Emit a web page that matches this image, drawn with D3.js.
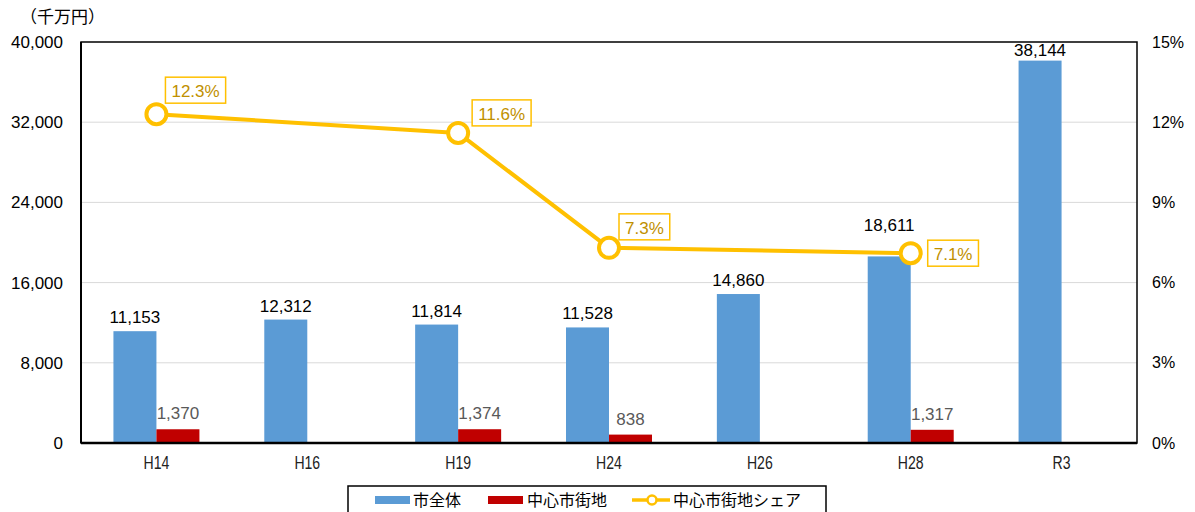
<!DOCTYPE html>
<html>
<head>
<meta charset="utf-8">
<script src="https://cdn.jsdelivr.net/npm/d3@7"></script>
<style>
  body { margin: 0; background: #fff; }
  text { font-family: "Liberation Sans", Arial, sans-serif; }
  .jp { font-family: "Noto Sans CJK JP", sans-serif; }
</style>
</head>
<body>
<svg id="chart" width="1195" height="512"></svg>
<script>
// data
const years = ["H14", "H16", "H19", "H24", "H26", "H28", "R3"];
const city_total = [11153, 12312, 11814, 11528, 14860, 18611, 38144];
const center_area = [1370, null, 1374, 838, null, 1317, null];
const center_share = [12.3, null, 11.6, 7.3, null, 7.1, null];
const left_ticks = [0, 8000, 16000, 24000, 32000, 40000];
const right_ticks = [0, 3, 6, 9, 12, 15];

const blue = "#5B9BD5", red = "#C00000", gold = "#FFC000";

const svg = d3.select("#chart");
const margin = { top: 42, right: 58, bottom: 69, left: 81 };
const width = 1195 - margin.left - margin.right;
const height = 512 - margin.top - margin.bottom;

const g = svg.append("g").attr("transform", "translate(" + margin.left + "," + margin.top + ")");

const x = d3.scaleBand().domain(years).range([0, width]);
const y = d3.scaleLinear().domain([0, 40000]).range([height, 0]);
const y2 = d3.scaleLinear().domain([0, 15]).range([height, 0]);
const barW = 43;

// gridlines
g.append("g")
  .selectAll("line")
  .data(left_ticks.slice(1, -1))
  .enter()
  .append("line")
  .attr("x1", 0).attr("x2", width)
  .attr("y1", d => y(d)).attr("y2", d => y(d))
  .attr("stroke", "#d9d9d9").attr("stroke-width", 1);

// left axis labels
g.append("g")
  .call(d3.axisLeft(y).tickValues(left_ticks).tickFormat(d3.format(",")).tickSize(0).tickPadding(18))
  .call(a => a.select(".domain").remove())
  .selectAll("text").attr("font-size", 17).attr("fill", "#000");

// right axis labels
g.append("g")
  .attr("transform", "translate(" + width + ",0)")
  .call(d3.axisRight(y2).tickValues(right_ticks).tickFormat(d => d + "%").tickSize(0).tickPadding(15))
  .call(a => a.select(".domain").remove())
  .selectAll("text").attr("font-size", 16).attr("fill", "#000");

// x axis labels (condensed look)
g.append("g")
  .attr("transform", "translate(0," + height + ")")
  .call(d3.axisBottom(x).tickSize(0).tickPadding(0))
  .call(a => a.select(".domain").remove())
  .selectAll("text")
  .attr("font-size", 19).attr("fill", "#222")
  .attr("dy", null)
  .attr("y", 26)
  .attr("transform", "scale(0.74,1)");

// unit
svg.append("text").attr("class", "jp")
  .attr("x", 20).attr("y", 23).attr("font-size", 17)
  .text("（千万円）");

// bars: city total
const total_data = years.map((d, i) => ({ year: d, v: city_total[i] }));
g.selectAll(".bar_total")
  .data(total_data)
  .enter()
  .append("rect")
  .attr("x", d => x(d.year) + x.bandwidth() / 2 - barW)
  .attr("y", d => y(d.v))
  .attr("width", barW)
  .attr("height", d => height - y(d.v))
  .attr("fill", blue);

// bars: center area
const center_data = years.map((d, i) => ({ year: d, v: center_area[i] })).filter(d => d.v != null);
g.selectAll(".bar_center")
  .data(center_data)
  .enter()
  .append("rect")
  .attr("x", d => x(d.year) + x.bandwidth() / 2)
  .attr("y", d => y(d.v))
  .attr("width", barW)
  .attr("height", d => height - y(d.v))
  .attr("fill", red);

// value labels (H28 label lifted above the marker, tall bar label kept inside the frame)
g.selectAll(".lab_total")
  .data(total_data)
  .enter()
  .append("text")
  .attr("x", d => x(d.year) + x.bandwidth() / 2 - barW / 2)
  .attr("y", d => {
    let yy = y(d.v) - (d.year == "H28" ? 25 : 8);
    return Math.max(yy, 14);
  })
  .attr("text-anchor", "middle")
  .attr("font-size", 17).attr("fill", "#000")
  .text(d => d3.format(",")(d.v));

g.selectAll(".lab_center")
  .data(center_data)
  .enter()
  .append("text")
  .attr("x", d => x(d.year) + x.bandwidth() / 2 + barW / 2)
  .attr("y", d => y(d.v) - 10)
  .attr("text-anchor", "middle")
  .attr("font-size", 17).attr("fill", "#595959")
  .text(d => d3.format(",")(d.v));

// share line
const share_data = years.map((d, i) => ({ year: d, v: center_share[i] })).filter(d => d.v != null);
const line = d3.line().x(d => x(d.year) + x.bandwidth() / 2).y(d => y2(d.v));
g.append("path")
  .datum(share_data)
  .attr("d", line)
  .attr("fill", "none")
  .attr("stroke", gold)
  .attr("stroke-width", 4)
  .attr("stroke-linejoin", "round");

g.selectAll(".share_pt")
  .data(share_data)
  .enter()
  .append("circle")
  .attr("cx", d => x(d.year) + x.bandwidth() / 2)
  .attr("cy", d => y2(d.v))
  .attr("r", 10)
  .attr("fill", "#fff")
  .attr("stroke", gold)
  .attr("stroke-width", 4);

// share labels with box (offset from point)
const offsets = { H14: [9, -37], H19: [14, -33], H24: [10, -34], H28: [17, -13] };
const share_lab = g.selectAll(".share_lab")
  .data(share_data)
  .enter()
  .append("g")
  .attr("transform", d => "translate(" + (x(d.year) + x.bandwidth() / 2 + offsets[d.year][0]) + "," + (y2(d.v) + offsets[d.year][1]) + ")");

share_lab.append("text")
  .attr("x", 6).attr("y", 20)
  .attr("font-size", 17).attr("fill", "#BF9000")
  .text(d => d.v.toFixed(1) + "%");

share_lab.each(function () {
  const t = d3.select(this).select("text").node().getBBox();
  d3.select(this).insert("rect", "text")
    .attr("x", 0).attr("y", 0)
    .attr("width", t.width + 12).attr("height", 26)
    .attr("fill", "#fff")
    .attr("stroke", gold).attr("stroke-width", 1.5);
});

// plot frame
g.append("rect")
  .attr("x", 0).attr("y", 0).attr("width", width).attr("height", height)
  .attr("fill", "none").attr("stroke", "#000").attr("stroke-width", 1.5);
g.append("line")
  .attr("x1", 0).attr("x2", width).attr("y1", height).attr("y2", height)
  .attr("stroke", "#000").attr("stroke-width", 2.5);
g.append("line")
  .attr("x1", 0).attr("x2", 0).attr("y1", 0).attr("y2", height)
  .attr("stroke", "#000").attr("stroke-width", 2);

// legend
const leg = svg.append("g").attr("transform", "translate(348,486)");
leg.append("rect")
  .attr("x", 0).attr("y", 0).attr("width", 478).attr("height", 32)
  .attr("fill", "#fff").attr("stroke", "#000").attr("stroke-width", 1.5);

leg.append("rect").attr("x", 27).attr("y", 10).attr("width", 35).attr("height", 8).attr("fill", blue);
leg.append("text").attr("class", "jp").attr("x", 65).attr("y", 20).attr("font-size", 16).text("市全体");

leg.append("rect").attr("x", 140).attr("y", 10).attr("width", 35).attr("height", 8).attr("fill", red);
leg.append("text").attr("class", "jp").attr("x", 179).attr("y", 20).attr("font-size", 16).text("中心市街地");

leg.append("line").attr("x1", 284).attr("x2", 322).attr("y1", 14).attr("y2", 14)
  .attr("stroke", gold).attr("stroke-width", 3.5);
leg.append("circle").attr("cx", 304).attr("cy", 14).attr("r", 4.5)
  .attr("fill", "#fff").attr("stroke", gold).attr("stroke-width", 2.5);
leg.append("text").attr("class", "jp").attr("x", 325).attr("y", 20).attr("font-size", 16).text("中心市街地シェア");
</script>
</body>
</html>
